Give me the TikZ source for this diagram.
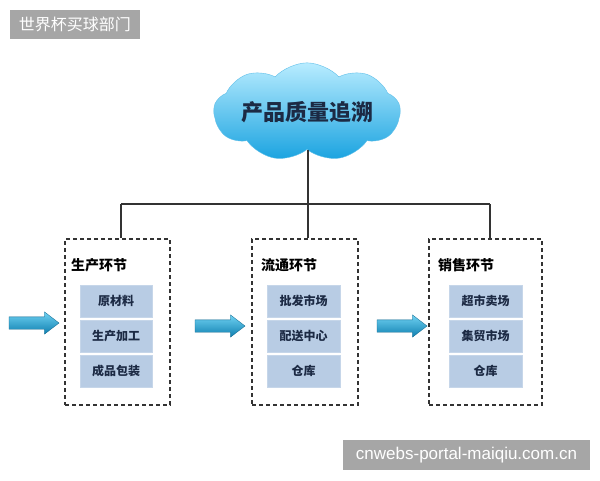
\documentclass[tikz,border=0pt]{standalone}
\usepackage{fontspec}
\setmainfont{Noto Sans CJK SC}
\newfontfamily\cjk{Noto Sans CJK SC}
\newfontfamily\latinwm{Liberation Sans}
\usetikzlibrary{shapes.symbols,shapes.arrows}
\definecolor{wmgray}{HTML}{A6A6A6}
\definecolor{cloudtop}{HTML}{B8ECFF}
\definecolor{cloudbot}{HTML}{1AA3E0}
\definecolor{navy}{HTML}{1C2A44}
\definecolor{innerfill}{HTML}{B8CCE4}
\definecolor{linegray}{HTML}{333333}
\definecolor{arrowtop}{HTML}{6FD2F2}
\definecolor{arrowbot}{HTML}{0F7FB0}
\tikzset{
  wm/.style={fill=wmgray, text=white, inner sep=0pt},
  dashbox/.style={draw=linegray, line width=1.2pt, dash pattern=on 4pt off 3pt},
  connector/.style={draw=linegray, line width=1.3pt},
  stagetitle/.style={anchor=west, font=\cjk\bfseries\fontsize{14}{16}\selectfont, text=black, inner sep=0pt},
  itembox/.style={fill=innerfill, draw=innerfill!80!white, line width=0.5pt, minimum width=72pt, minimum height=32pt, inner sep=0pt, font=\cjk\bfseries\fontsize{12}{14}\selectfont, text=navy},
  flowarrow/.style={single arrow, shade, top color=arrowtop, bottom color=arrowbot, draw=arrowbot!80!black, line width=0.3pt, minimum height=50pt, minimum width=0pt, inner xsep=0pt, inner ysep=6pt, single arrow head extend=5pt, single arrow tip angle=75}
}
\begin{document}
\begin{tikzpicture}[x=1pt,y=-1pt]
\useasboundingbox (0,0) rectangle (600,480);
\fill[white] (0,0) rectangle (600,480);
% watermarks
\node[wm, minimum width=130pt, minimum height=29pt, font=\cjk\fontsize{16}{18}\selectfont] (wm1) at (75,24.5) {世界杯买球部门};
\node[wm, minimum width=247pt, minimum height=30pt, font=\latinwm\fontsize{17}{19}\selectfont] (wm2) at (466.5,455) {cnwebs-portal-maiqiu.com.cn};
% cloud
\node[cloud, cloud puffs=9, cloud puff arc=95, aspect=2.5, shade, top color=cloudtop, bottom color=cloudbot, draw=cloudbot!70!white, line width=0.4pt, minimum width=186pt, minimum height=78pt, inner sep=0pt, font=\cjk\bfseries\fontsize{22}{24}\selectfont, text=navy] (cloud) at (307,112) {产品质量追溯};
% stage boxes
\node[dashbox, minimum width=105pt, minimum height=166pt] (box1) at (117.5,322) {};
\node[dashbox, minimum width=106pt, minimum height=166pt] (box2) at (305,322) {};
\node[dashbox, minimum width=113pt, minimum height=166pt] (box3) at (485.5,322) {};
% titles
\node[stagetitle] (t1) at (71,265) {生产环节};
\node[stagetitle] (t2) at (261,265) {流通环节};
\node[stagetitle] (t3) at (438,265) {销售环节};
% items
\node[itembox] (a1) at (116,301) {原材料};
\node[itembox] (a2) at (116,336) {生产加工};
\node[itembox] (a3) at (116,371) {成品包装};
\node[itembox, minimum width=73pt] (b1) at (303.5,301) {批发市场};
\node[itembox, minimum width=73pt] (b2) at (303.5,336) {配送中心};
\node[itembox, minimum width=73pt] (b3) at (303.5,371) {仓库};
\node[itembox, minimum width=73pt] (c1) at (485.5,301) {超市卖场};
\node[itembox, minimum width=73pt] (c2) at (485.5,336) {集贸市场};
\node[itembox, minimum width=73pt] (c3) at (485.5,371) {仓库};
% arrows
\node[flowarrow] (f1) at (30,323) {};
\node[flowarrow] (f2) at (216,326) {};
\node[flowarrow] (f3) at (398,326) {};
% connectors
\coordinate (j1) at (121,204);
\coordinate (j2) at (308,204);
\coordinate (j3) at (490,204);
\draw[connector] (j2 |- cloud.south) -- (j2 |- box2.north);
\draw[connector] (j1) -- (j3);
\draw[connector] (j1) -- (j1 |- box1.north);
\draw[connector] (j3) -- (j3 |- box3.north);
\end{tikzpicture}
\end{document}
